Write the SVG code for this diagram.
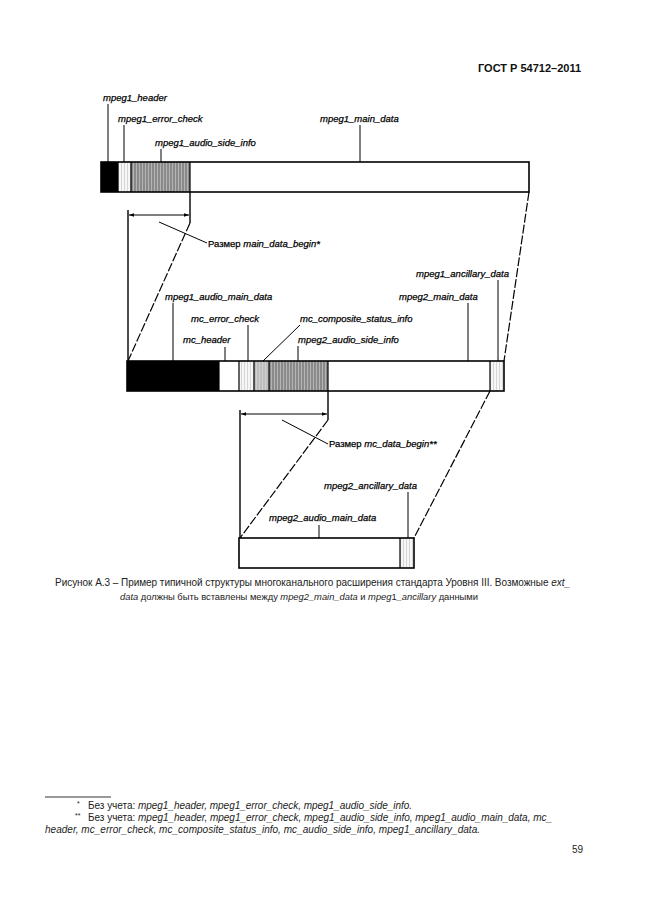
<svg xmlns="http://www.w3.org/2000/svg" width="646" height="913" viewBox="0 0 646 913">
<style>
.lbl{font-family:"Liberation Sans",Arial,sans-serif;font-size:9.5px;font-style:italic;fill:#000;stroke:#000;stroke-width:0.25}
.dim{font-family:"Liberation Sans",Arial,sans-serif;font-size:9.5px;fill:#000;stroke:#000;stroke-width:0.25}
.body{font-family:"Liberation Sans",Arial,sans-serif;font-size:10px;fill:#222}
.fn{font-family:"Liberation Sans",Arial,sans-serif;font-size:10px;fill:#222}
.sup{font-family:"Liberation Sans",Arial,sans-serif;font-size:7px;fill:#222}
.it{font-style:italic}
.bar{fill:none;stroke:#000;stroke-width:1.6}
.div{stroke:#000;stroke-width:1.2}
.lead{stroke:#000;stroke-width:1;fill:none}
.dash{stroke:#000;stroke-width:1.2;fill:none;stroke-dasharray:9 2}
.dimline{stroke:#000;stroke-width:1.2;fill:none;marker-start:url(#arr);marker-end:url(#arr)}
</style>
<defs>
<pattern id="hDark" width="3" height="4" patternUnits="userSpaceOnUse">
<rect width="3" height="4" fill="#8a8a8a"/><line x1="1.5" y1="0" x2="1.5" y2="4" stroke="#b4b4b4" stroke-width="1"/>
</pattern>
<pattern id="hLight" width="3" height="4" patternUnits="userSpaceOnUse">
<rect width="3" height="4" fill="#f6f6f6"/><line x1="1.5" y1="0" x2="1.5" y2="4" stroke="#d6d6d6" stroke-width="1"/>
</pattern>
<pattern id="hMid" width="3" height="4" patternUnits="userSpaceOnUse">
<rect width="3" height="4" fill="#bdbdbd"/><line x1="1.5" y1="0" x2="1.5" y2="4" stroke="#d0d0d0" stroke-width="1"/>
</pattern>
<marker id="arr" viewBox="0 0 6 6" refX="6" refY="3" markerWidth="5" markerHeight="5" orient="auto-start-reverse" markerUnits="userSpaceOnUse">
<path d="M0,0.8 L6,3 L0,5.2 Z" fill="#000"/>
</marker>
</defs>

<rect width="646" height="913" fill="#fff"/>

<text x="478" y="72" font-family="Liberation Sans,Arial,sans-serif" font-size="11" font-weight="bold" fill="#111">ГОСТ Р 54712–2011</text>

<!-- top bar (mpeg1 frame) -->
<g id="bar-mpeg1">
<rect x="101" y="162" width="17" height="30" fill="#000"/>
<rect x="118" y="162" width="13" height="30" fill="url(#hLight)"/>
<rect x="131" y="162" width="59" height="30" fill="url(#hDark)"/>
<line class="div" x1="118" y1="162" x2="118" y2="192"/>
<line class="div" x1="131" y1="162" x2="131" y2="192"/>
<line class="div" x1="190" y1="162" x2="190" y2="192"/>
<rect class="bar" x="101" y="162" width="428" height="30"/>
</g>

<!-- middle bar (mc frame) -->
<g id="bar-mc">
<rect x="127" y="361" width="92" height="30" fill="#000"/>
<rect x="239" y="361" width="15" height="30" fill="url(#hLight)"/>
<rect x="254" y="361" width="15" height="30" fill="url(#hMid)"/>
<rect x="269" y="361" width="59" height="30" fill="url(#hDark)"/>
<rect x="490" y="361" width="14" height="30" fill="url(#hLight)"/>
<line class="div" x1="219" y1="361" x2="219" y2="391"/>
<line class="div" x1="239" y1="361" x2="239" y2="391"/>
<line class="div" x1="254" y1="361" x2="254" y2="391"/>
<line class="div" x1="269" y1="361" x2="269" y2="391"/>
<line class="div" x1="328" y1="361" x2="328" y2="391"/>
<line class="div" x1="490" y1="361" x2="490" y2="391"/>
<rect class="bar" x="127" y="361" width="377" height="30"/>
</g>

<!-- bottom bar (mpeg2 ext) -->
<g id="bar-mpeg2">
<rect x="400" y="538" width="14" height="30" fill="url(#hLight)"/>
<line class="div" x1="400" y1="538" x2="400" y2="568"/>
<rect class="bar" x="239" y="538" width="175" height="30"/>
</g>

<!-- labels -->
<g id="lbl-mpeg1_header"><text class="lbl" x="103" y="101">mpeg1_header</text></g>
<g id="lbl-mpeg1_error_check"><text class="lbl" x="118" y="122">mpeg1_error_check</text></g>
<g id="lbl-mpeg1_audio_side_info"><text class="lbl" x="155" y="146">mpeg1_audio_side_info</text></g>
<g id="lbl-mpeg1_main_data"><text class="lbl" x="320" y="122">mpeg1_main_data</text></g>
<g id="lbl-main_data_begin"><text class="dim" x="208" y="247">Размер <tspan class="it">main_data_begin*</tspan></text></g>
<g id="lbl-mpeg1_ancillary_data"><text class="lbl" x="416" y="277">mpeg1_ancillary_data</text></g>
<g id="lbl-mpeg1_audio_main_data"><text class="lbl" x="165" y="300">mpeg1_audio_main_data</text></g>
<g id="lbl-mpeg2_main_data"><text class="lbl" x="399" y="300">mpeg2_main_data</text></g>
<g id="lbl-mc_error_check"><text class="lbl" x="191" y="322">mc_error_check</text></g>
<g id="lbl-mc_composite_status_info"><text class="lbl" x="300" y="322">mc_composite_status_info</text></g>
<g id="lbl-mc_header"><text class="lbl" x="183" y="343">mc_header</text></g>
<g id="lbl-mpeg2_audio_side_info"><text class="lbl" x="298" y="343">mpeg2_audio_side_info</text></g>
<g id="lbl-mc_data_begin"><text class="dim" x="329" y="447">Размер <tspan class="it">mc_data_begin**</tspan></text></g>
<g id="lbl-mpeg2_ancillary_data"><text class="lbl" x="324" y="489">mpeg2_ancillary_data</text></g>
<g id="lbl-mpeg2_audio_main_data"><text class="lbl" x="269" y="521">mpeg2_audio_main_data</text></g>

<!-- connectors -->
<g id="connectors">
<line class="lead" x1="108" y1="104" x2="108" y2="162"/>
<line class="lead" x1="124" y1="125" x2="124" y2="162"/>
<line class="lead" x1="161" y1="149" x2="161" y2="162"/>
<line class="lead" x1="360" y1="125" x2="360" y2="162"/>
<line class="lead" x1="159" y1="222" x2="207" y2="243"/>
<line class="lead" x1="498" y1="280" x2="498" y2="361"/>
<line class="lead" x1="173" y1="303" x2="173" y2="361"/>
<line class="lead" x1="468" y1="303" x2="468" y2="361"/>
<line class="lead" x1="248" y1="325" x2="248" y2="361"/>
<line class="lead" x1="263" y1="361" x2="300" y2="325"/>
<line class="lead" x1="225" y1="347" x2="225" y2="361"/>
<line class="lead" x1="298" y1="346" x2="298" y2="361"/>
<line class="lead" x1="282" y1="420" x2="328" y2="444"/>
<line class="lead" x1="408" y1="492" x2="408" y2="538"/>
<line class="lead" x1="319" y1="525" x2="319" y2="538"/>

<line class="lead" x1="190" y1="192" x2="190" y2="223" style="stroke-width:1.4"/>
<line class="lead" x1="128" y1="210" x2="128" y2="361" style="stroke-width:1.4"/>
<line class="dimline" x1="129" y1="215" x2="189" y2="215"/>
<line class="dash" x1="190" y1="223" x2="128" y2="361"/>
<line class="dash" x1="529" y1="192" x2="504" y2="361"/>

<line class="lead" x1="328" y1="391" x2="328" y2="420" style="stroke-width:1.4"/>
<line class="lead" x1="240" y1="410" x2="240" y2="538" style="stroke-width:1.4"/>
<line class="dimline" x1="241" y1="414" x2="327" y2="414"/>
<line class="dash" x1="328" y1="420" x2="240" y2="538"/>
<line class="dash" x1="490" y1="391" x2="414" y2="538"/>
</g>

<!-- caption -->
<text class="body" x="55" y="586" textLength="515" lengthAdjust="spacing">Рисунок А.3 – Пример типичной структуры многоканального расширения стандарта Уровня III. Возможные <tspan class="it">ext_</tspan></text>
<text class="body" x="120" y="600" style="font-size:9.4px" textLength="358" lengthAdjust="spacing"><tspan class="it">data</tspan> должны быть вставлены между <tspan class="it">mpeg2_main_data</tspan> и <tspan class="it">mpeg</tspan>1<tspan class="it">_ancillary</tspan> данными</text>

<!-- footnotes -->
<line x1="45" y1="797" x2="111" y2="797" stroke="#000" stroke-width="0.8"/>
<text class="sup" x="77" y="806">*</text>
<text class="fn" x="88" y="809" textLength="324" lengthAdjust="spacing">Без учета: <tspan class="it">mpeg1_header, mpeg1_error_check, mpeg1_audio_side_info.</tspan></text>
<text class="sup" x="75" y="818">**</text>
<text class="fn" x="88" y="821" textLength="464" lengthAdjust="spacing">Без учета: <tspan class="it">mpeg1_header, mpeg1_error_check, mpeg1_audio_side_info, mpeg1_audio_main_data, mc_</tspan></text>
<text class="fn" x="45" y="833" textLength="435" lengthAdjust="spacing"><tspan class="it">header, mc_error_check, mc_composite_status_info, mc_audio_side_info, mpeg1_ancillary_data.</tspan></text>

<text class="body" x="572" y="853">59</text>
</svg>
